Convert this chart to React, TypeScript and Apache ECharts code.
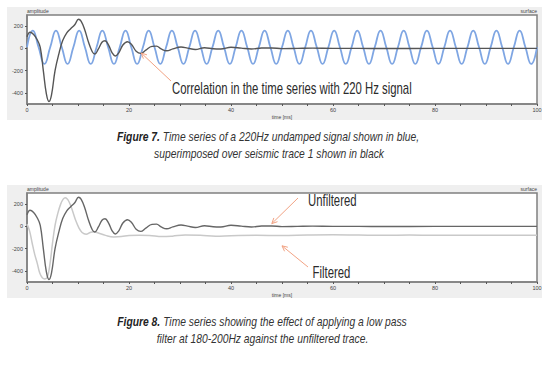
import React, { useEffect, useRef } from 'react';
import * as echarts from 'echarts';

// 220 Hz undamped signal, read at quarter periods (time in ms, amplitude)
const signalTime = [
  0, 1.14, 2.27, 3.41, 4.55, 5.68, 6.82, 7.95, 9.09, 10.23, 11.36, 12.5, 13.64, 14.77, 15.91, 17.05,
  18.18, 19.32, 20.45, 21.59, 22.73, 23.86, 25, 26.14, 27.27, 28.41, 29.55, 30.68, 31.82, 32.95, 34.09,
  35.23, 36.36, 37.5, 38.64, 39.77, 40.91, 42.05, 43.18, 44.32, 45.45, 46.59, 47.73, 48.86, 50, 51.14,
  52.27, 53.41, 54.55, 55.68, 56.82, 57.95, 59.09, 60.23, 61.36, 62.5, 63.64, 64.77, 65.91, 67.05,
  68.18, 69.32, 70.45, 71.59, 72.73, 73.86, 75, 76.14, 77.27, 78.41, 79.55, 80.68, 81.82, 82.95, 84.09,
  85.23, 86.36, 87.5, 88.64, 89.77, 90.91, 92.05, 93.18, 94.32, 95.45, 96.59, 97.73, 98.86, 100,
];
const signalValue = [
  10, 160, 10, -140, 10, 160, 10, -140, 10, 160, 10, -140, 10, 160, 10, -140,
  10, 160, 10, -140, 10, 160, 10, -140, 10, 160, 10, -140, 10, 160, 10, -140,
  10, 160, 10, -140, 10, 160, 10, -140, 10, 160, 10, -140, 10, 160, 10, -140,
  10, 160, 10, -140, 10, 160, 10, -140, 10, 160, 10, -140, 10, 160, 10, -140,
  10, 160, 10, -140, 10, 160, 10, -140, 10, 160, 10, -140, 10, 160, 10, -140,
  10, 160, 10, -140, 10, 160, 10, -140, 10,
];

// Seismic trace 1 (unfiltered)
const traceTime = [
  0, 0.6, 1.3, 2.0, 2.6, 3.2, 3.8, 4.3, 4.8, 5.5, 6.3, 7.0, 7.8, 8.6, 9.4, 10.1, 10.6, 11.3, 12.1,
  12.8, 13.3, 14.0, 14.7, 15.3, 16.0, 16.7, 17.3, 18.0, 18.8, 19.7, 20.5, 21.4, 22.3, 23.3, 24.5,
  25.4, 26.3, 27.4, 28.6, 30.2, 31.5, 33.0, 34.8, 36.5, 38.0, 40.0, 42.0, 44.0, 46.0, 48.0, 50.0,
  53.0, 56.0, 60.0, 65.0, 70.0, 80.0, 90.0, 100.0,
];
const traceValue = [
  105, 145, 125, 78, 10, -200, -410, -478, -420, -200, -40, 70, 140, 178, 215, 262, 245, 170, 50,
  -30, -50, -5, 55, 68, 30, -40, -68, -40, 30, 60, 35, -25, -45, -15, 18,
  20, -5, -22, -5, 12, 2, -10, 6, -3, -5, 10, 2, -6, 3, 4, -2,
  0, 2, 0, 0, -1, 0, 0, 0,
];

// Trace after low pass filter at 180-200 Hz
const filteredTime = [
  0, 0.5, 1.0, 1.5, 2.0, 2.5, 3.0, 3.5, 4.0, 4.5, 5.0, 5.5, 6.0, 6.6, 7.1, 7.5, 8.0, 8.5, 9.0, 9.5,
  10.2, 10.8, 11.6, 12.4, 13.1, 14.0, 15.4, 17.0, 18.5, 20.0, 22.0, 24.0, 26.5, 28.5, 31.0, 34.0,
  37.0, 40.0, 45.0, 50.0, 55.0, 60.0, 65.0, 70.0, 75.0, 80.0, 90.0, 100.0,
];
const filteredValue = [
  20, -40, -147, -250, -330, -420, -462, -472, -455, -340, -150, 10, 110, 200, 245, 258, 240, 195, 130, 60,
  -15, -55, -70, -55, -48, -60, -81, -95, -92, -82, -80, -82, -92, -88, -78, -80,
  -88, -84, -80, -82, -78, -76, -78, -80, -78, -80, -80, -80,
];

const yTicks = [-400, -200, 0, 200];
const xLabelStep = 20;

const pairs = (t: number[], v: number[]) => t.map((x, i) => [x, v[i]]);

const SANS = 'Liberation Sans, Arial, sans-serif';

export default function App() {
  const ref = useRef<HTMLDivElement>(null);
  useEffect(() => {
    const chart = echarts.init(ref.current!, null, { renderer: 'svg' });
    const tickFont = { fontSize: 5.5, color: '#444', fontFamily: SANS };
    const grids = [
      { left: 27, top: 15, width: 510, height: 89 },
      { left: 27, top: 193, width: 510, height: 89 },
    ];
    const frame = '#808080';
    const option: any = {
      animation: false,
      backgroundColor: '#ffffff',
      grid: grids.map((g) => ({
        ...g,
        show: true,
        backgroundColor: '#ffffff',
        borderColor: frame,
        borderWidth: 1.5,
        containLabel: false,
      })),
      xAxis: grids.map((_, i) => ({
        type: 'value',
        gridIndex: i,
        min: 0,
        max: 100,
        interval: 5,
        name: 'time [ms]',
        nameLocation: 'middle',
        nameGap: 10,
        nameTextStyle: { fontSize: 5, color: '#444', fontFamily: SANS },
        axisLine: { show: true, onZero: false, lineStyle: { color: frame, width: 1.5 } },
        axisTick: { show: true, length: 2, lineStyle: { color: '#555' } },
        axisLabel: {
          ...tickFont,
          margin: 3,
          formatter: (v: number) => (v % xLabelStep === 0 ? String(v) : ''),
        },
        splitLine: { show: false },
      })),
      yAxis: grids.map((_, i) => ({
        type: 'value',
        gridIndex: i,
        min: -500,
        max: 300,
        name: 'amplitude',
        nameLocation: 'end',
        nameGap: 2,
        nameTextStyle: { fontSize: 5, color: '#444', fontFamily: SANS, align: 'left', verticalAlign: 'bottom' },
        axisLine: { show: true, onZero: false, lineStyle: { color: frame, width: 1.5 } },
        axisTick: { show: true, length: 2, customValues: yTicks, lineStyle: { color: '#555' } },
        axisLabel: { ...tickFont, margin: 4, customValues: yTicks },
        splitLine: { show: false },
      })),
      series: [
        {
          type: 'line', xAxisIndex: 0, yAxisIndex: 0, data: pairs(signalTime, signalValue),
          showSymbol: false, smooth: 0.5, lineStyle: { color: '#7fa6e3', width: 1.8 }, z: 2,
        },
        {
          type: 'line', xAxisIndex: 0, yAxisIndex: 0, data: pairs(traceTime, traceValue),
          showSymbol: false, smooth: 0.4, lineStyle: { color: '#555555', width: 1.4 }, z: 3,
        },
        {
          type: 'line', xAxisIndex: 1, yAxisIndex: 1, data: pairs(filteredTime, filteredValue),
          showSymbol: false, smooth: 0.4, lineStyle: { color: '#c9c9c9', width: 1.5 }, z: 2,
        },
        {
          type: 'line', xAxisIndex: 1, yAxisIndex: 1, data: pairs(traceTime, traceValue),
          showSymbol: false, smooth: 0.4, lineStyle: { color: '#666666', width: 1.4 }, z: 3,
        },
      ],
    };
    chart.setOption(option);

    const arrowColor = '#f2a384';
    const arrow = (tail: number[], tip: number[]) => {
      const ang = Math.atan2(tip[1] - tail[1], tip[0] - tail[0]);
      const len = 6;
      const spread = 0.45;
      const p1 = [tip[0] - len * Math.cos(ang - spread), tip[1] - len * Math.sin(ang - spread)];
      const p2 = [tip[0] - len * Math.cos(ang + spread), tip[1] - len * Math.sin(ang + spread)];
      return [
        { type: 'line', shape: { x1: tail[0], y1: tail[1], x2: tip[0], y2: tip[1] }, style: { stroke: arrowColor, lineWidth: 1 }, z: 10 },
        { type: 'polyline', shape: { points: [p1, tip, p2] }, style: { stroke: arrowColor, lineWidth: 1, fill: null }, z: 10 },
      ];
    };
    const tip1 = chart.convertToPixel({ gridIndex: 0 }, [22.4, -42]) as number[];
    const tip2 = chart.convertToPixel({ gridIndex: 1 }, [48, 25]) as number[];
    const tip3 = chart.convertToPixel({ gridIndex: 1 }, [50, -175]) as number[];

    const rich = {
      b: { fontFamily: SANS, fontSize: 12, fontWeight: 'bold', fontStyle: 'italic', fill: '#222' },
      n: { fontFamily: SANS, fontSize: 12, fontStyle: 'italic', fill: '#333' },
    };
    const caption = (x: number, y: number, text: string) => ({
      type: 'text', x, y, scaleX: 0.86, z: 10,
      style: { text, rich, fontFamily: SANS, fontSize: 12, fontStyle: 'italic', fill: '#333', align: 'center', verticalAlign: 'middle' },
    });
    const note = (x: number, y: number, text: string) => ({
      type: 'text', x, y, scaleX: 0.71, z: 10,
      style: { text, fontFamily: SANS, fontSize: 16, fill: '#2b2b2b', align: 'left', verticalAlign: 'middle' },
    });

    chart.setOption({
      graphic: [
        { type: 'rect', shape: { x: 7, y: 7, width: 535, height: 113 }, style: { fill: '#efefef' }, z: -1 },
        { type: 'rect', shape: { x: 7, y: 185, width: 535, height: 113 }, style: { fill: '#efefef' }, z: -1 },
        { type: 'text', x: 537, y: 13, z: 10, style: { text: 'surface', fontFamily: SANS, fontSize: 5, fill: '#444', align: 'right', verticalAlign: 'bottom' } },
        { type: 'text', x: 537, y: 191, z: 10, style: { text: 'surface', fontFamily: SANS, fontSize: 5, fill: '#444', align: 'right', verticalAlign: 'bottom' } },
        ...arrow([171, 81], tip1),
        ...arrow([298, 198], tip2),
        ...arrow([308, 267], tip3),
        note(172, 88.5, 'Correlation in the time series with 220 Hz signal'),
        note(308, 200.5, 'Unfiltered'),
        note(312.5, 272.5, 'Filtered'),
        caption(268, 137, '{b|Figure 7.} {n|Time series of a 220Hz undamped signal shown in blue,}'),
        caption(269, 153.5, '{n|superimposed over seismic trace 1 shown in black}'),
        caption(262, 322, '{b|Figure 8.} {n|Time series showing the effect of applying a low pass}'),
        caption(262.5, 338.5, '{n|filter at 180-200Hz against the unfiltered trace.}'),
      ],
    });
    return () => chart.dispose();
  }, []);
  return (
    <div
      ref={ref}
      style={{ position: 'fixed', left: 0, top: 0, width: 550, height: 372, background: '#fff' }}
    />
  );
}
